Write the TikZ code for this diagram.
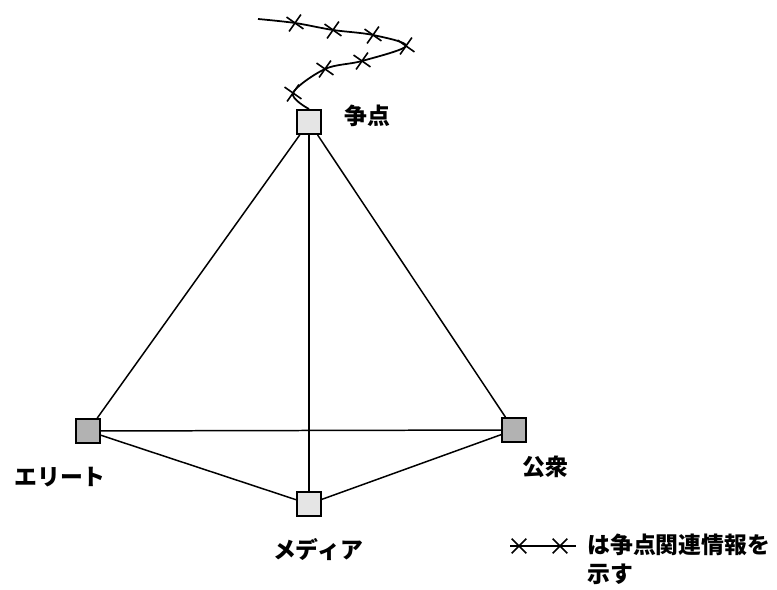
\documentclass[tikz,border=0pt]{standalone}
\usepackage{fontspec}
\setmainfont{Noto Sans CJK JP}
\usetikzlibrary{shapes.misc,positioning}
\tikzset{
    actorbox/.style={rectangle,draw,line width=1.1pt,minimum size=4.8mm,inner sep=0pt},
    darkbox/.style={actorbox,fill=black!30},
    lightbox/.style={actorbox,fill=black!10},
    actorlabel/.style={font=\fontsize{13}{16}\selectfont\bfseries,inner sep=0pt},
    tieline/.style={line width=0.85pt},
    wireline/.style={line width=1pt},
    crossmark/.style={cross out,draw,line width=0.9pt,minimum size=2.6mm,inner sep=0pt,rotate=10},
    legendtext/.style={font=\fontsize{13}{16.5}\selectfont\bfseries,align=left,inner sep=0pt}
}
\begin{document}
\begin{tikzpicture}[x=0.02cm,y=-0.02cm]
    \useasboundingbox (0,0) rectangle (777,590);
    % actors
    \node[lightbox] (issue) at (309,122) {};
    \node[darkbox] (elite) at (88,431) {};
    \node[darkbox] (public) at (514,430) {};
    \node[lightbox] (media) at (309,504) {};
    \node[actorlabel] (issuetag) at (367,116) {争点};
    \node[actorlabel] (elitetag) at (60,477) {エリート};
    \node[actorlabel] (publictag) at (545,467) {公衆};
    \node[actorlabel] (mediatag) at (318,550) {メディア};
    % ties
    \draw[tieline] (issue) -- (elite);
    \draw[tieline] (issue) -- (public);
    \draw[tieline] (issue) -- (media);
    \draw[tieline] (elite) -- (public);
    \draw[tieline] (elite) -- (media);
    \draw[tieline] (media) -- (public);
    % issue-related information
    \coordinate (wirestart) at (258,19);
    \draw[wireline] plot[smooth,tension=0.55] coordinates {(wirestart) (295,23) (333,30) (373,35) (406,46) (362,61) (325,69) (293,93) (issue.north)};
    \foreach \px/\py/\name in {295/23/a,333/30/b,373/35/c,406/46/d,362/61/e,325/69/f,293/93/g}
        \node[crossmark] (mark\name) at (\px,\py) {};
    % legend
    \coordinate (legstart) at (510,546);
    \coordinate (legend) at (576,546);
    \draw[wireline] (legstart) -- (legend);
    \node[crossmark,rotate=-10] (legmarka) at (519,546) {};
    \node[crossmark,rotate=-10] (legmarkb) at (560,546) {};
    \node[legendtext,anchor=north west] (legtext) at (587,534) {は争点関連情報を\\示す};
\end{tikzpicture}
\end{document}
